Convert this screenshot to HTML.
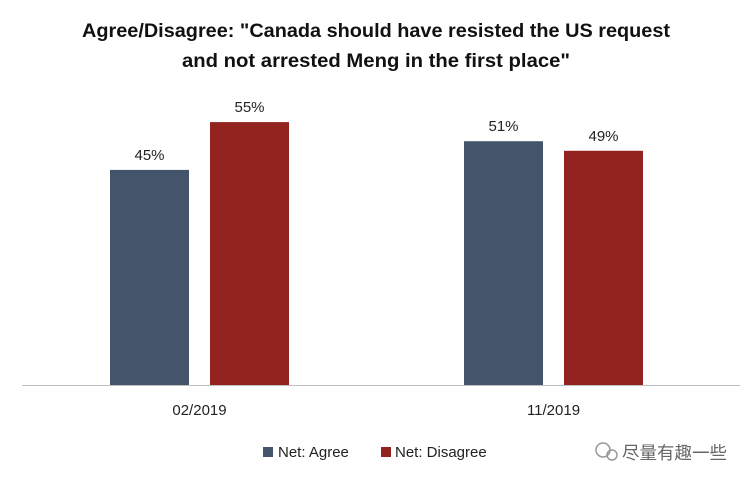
<!DOCTYPE html>
<html><head><meta charset="utf-8">
<style>
body{margin:0;background:#fff;}
svg{display:block;font-family:"Liberation Sans","Noto Sans CJK SC",sans-serif;}
</style></head>
<body>
<svg id="chart" width="753" height="483" viewBox="0 0 753 483">
<text x="376" y="37" text-anchor="middle" font-size="19" font-weight="bold" fill="#111" textLength="588" lengthAdjust="spacingAndGlyphs">Agree/Disagree: "Canada should have resisted the US request</text>
<text x="376" y="67" text-anchor="middle" font-size="19" font-weight="bold" fill="#111" textLength="388" lengthAdjust="spacingAndGlyphs">and not arrested Meng in the first place"</text>
<g id="bars"></g>
<line x1="22" y1="385.5" x2="740" y2="385.5" stroke="#bfbfbf" stroke-width="1"/>
<g>
<rect x="263" y="447" width="10" height="10" fill="#44546a"/>
<text x="278" y="457" font-size="15" fill="#222">Net: Agree</text>
<rect x="381" y="447" width="10" height="10" fill="#93231f"/>
<text x="395" y="457" font-size="15" fill="#222">Net: Disagree</text>
</g>
<g>
<circle cx="603" cy="450" r="7" fill="none" stroke="#999" stroke-width="1.5"/>
<circle cx="612" cy="455" r="5" fill="none" stroke="#999" stroke-width="1.5"/>
<text x="622" y="459" font-size="17.5" fill="#666">尽量有趣一些</text>
</g>
</svg>
<script>
const categories=["02/2019","11/2019"];
const agreeValues=[45,51];
const disagreeValues=[55,49];
const series=[{name:"agree",values:agreeValues,color:"#44546a"},{name:"disagree",values:disagreeValues,color:"#93231f"}];
const NS="http://www.w3.org/2000/svg";
const baseY=385, pxPerPct=4.78, groupLeft=[110,464], barW=79, gap=21;
function y(v){return baseY-v*pxPerPct;}
const g=document.getElementById('bars');
categories.forEach((c,i)=>{
  series.forEach((s,j)=>{
    const v=s.values[i];
    const x=groupLeft[i]+j*(barW+gap);
    const r=document.createElementNS(NS,'rect');
    r.setAttribute('x',x);r.setAttribute('y',y(v));r.setAttribute('width',barW);r.setAttribute('height',baseY-y(v));r.setAttribute('fill',s.color);
    
    
    g.appendChild(r);
    const t=document.createElementNS(NS,'text');
    t.setAttribute('x',x+barW/2);t.setAttribute('y',y(v)-10);t.setAttribute('text-anchor','middle');t.setAttribute('font-size','15');t.setAttribute('fill','#222');
    t.textContent=v+'%';
    
    
    g.appendChild(t);
  });
  const l=document.createElementNS(NS,'text');
  l.setAttribute('x',groupLeft[i]+barW+gap/2);l.setAttribute('y',415);l.setAttribute('text-anchor','middle');l.setAttribute('font-size','15');l.setAttribute('fill','#222');
  l.textContent=c;
  
  
  g.appendChild(l);
});
</script>
</body></html>
